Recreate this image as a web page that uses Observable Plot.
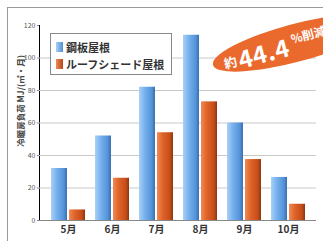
<!DOCTYPE html>
<html><head><meta charset="utf-8">
<script src="https://cdn.jsdelivr.net/npm/d3@7"></script>
<script src="https://cdn.jsdelivr.net/npm/@observablehq/plot@0.6"></script>
<style>
body{margin:0;background:#fff;font-family:"Noto Sans CJK JP",sans-serif;}
#wrap{position:relative;width:323px;height:241px;overflow:hidden;}
#frame{position:absolute;left:7px;top:7px;width:340px;height:260px;border:1.5px solid #9a9a9a;box-sizing:border-box;}
#chart{position:absolute;left:0;top:0;}
#legend{position:absolute;left:50px;top:33px;width:122px;height:42px;border:1px solid #888;background:#fff;box-sizing:border-box;padding:4px 0 0 5px;}
.li{display:flex;align-items:center;height:17px;font-size:11px;color:#333;font-weight:bold;white-space:nowrap;}
.sw{width:7px;height:10px;margin-right:3px;}
#ylab{position:absolute;left:20px;top:101px;transform:translate(-50%,-50%) rotate(-90deg);font-size:8.5px;color:#444;white-space:nowrap;font-weight:bold;}
#badge{position:absolute;left:213px;top:46px;width:170px;height:38px;border-radius:50%;background:#ea6a2e;transform:rotate(-15deg);transform-origin:0 50%;color:#fff;font-weight:bold;white-space:nowrap;}
#badge span{position:absolute;line-height:1;}
</style></head>
<body>
<div id="wrap">
<div id="frame"></div>
<div id="chart"></div>
<div id="legend"></div>
<div id="ylab"></div>
<div id="badge"></div>
</div>
<script>
const months = ["5月","6月","7月","8月","9月","10月"];
const seriesNames = ["鋼板屋根","ルーフシェード屋根"];
const steelValues = [32, 52, 82, 114, 60, 26.5];
const shadeValues = [6.5, 26, 54, 73, 37.5, 10];
const yTicks = [0,20,40,60,80,100,120];
const gridTicks = [20,40,60,80,100];
const yLabel = "冷暖房負荷 MJ/(㎡・月)";
const badgeParts = ["約","44.4","%削減"];

const data = [];
months.forEach((m,i)=>{
  data.push({month:m, series:seriesNames[0], value:steelValues[i]});
  data.push({month:m, series:seriesNames[1], value:shadeValues[i]});
});

const chart = Plot.plot({
  width: 323, height: 241,
  marginLeft: 39, marginRight: 7, marginTop: 25, marginBottom: 21,
  style: {fontFamily: '"Noto Sans CJK JP", sans-serif', background: "transparent"},
  x: {domain: months, paddingInner: 0.64, paddingOuter: 0.43, label: null, tickSize: 0, tickPadding: 5},
  y: {domain: [0,120], ticks: yTicks, label: null, tickSize: 2, tickPadding: 2, line: true},
  marks: [
    Plot.ruleY(gridTicks, {stroke: "#c8c8c8", strokeWidth: 1}),
    Plot.barY(data.filter(d=>d.series===seriesNames[0]), {x:"month", y:"value", fill:"url(#gBlue)", dx:-9}),
    Plot.barY(data.filter(d=>d.series===seriesNames[1]), {x:"month", y:"value", fill:"url(#gOrange)", dx:9}),
    Plot.ruleY([0], {stroke: "#888", strokeWidth: 1.2}),
  ]
});

const ns = "http://www.w3.org/2000/svg";
const defs = document.createElementNS(ns, "defs");
defs.innerHTML = `
<linearGradient id="gBlue" x1="0" x2="1" y1="0" y2="0">
 <stop offset="0" stop-color="#a9d0f5"/><stop offset="0.35" stop-color="#78b2ee"/>
 <stop offset="0.8" stop-color="#5392d8"/><stop offset="1" stop-color="#3a6fb0"/></linearGradient>
<linearGradient id="gOrange" x1="0" x2="1" y1="0" y2="0">
 <stop offset="0" stop-color="#f08a55"/><stop offset="0.35" stop-color="#e0642a"/>
 <stop offset="0.8" stop-color="#c44d18"/><stop offset="1" stop-color="#8f3510"/></linearGradient>`;
chart.insertBefore(defs, chart.firstChild);

chart.querySelectorAll('[aria-label="x-axis tick label"] text').forEach(t=>{t.style.fontSize="10px";t.style.fontWeight="bold";t.setAttribute("fill","#333");});
chart.querySelectorAll('[aria-label="y-axis tick label"] text').forEach(t=>{t.style.fontSize="7px";t.setAttribute("fill","#555");});
chart.querySelectorAll('[aria-label="y-axis tick"], [aria-label="y-axis line"]').forEach(g=>{g.setAttribute("stroke","#888");});
document.getElementById("chart").appendChild(chart);

const lg = document.getElementById("legend");
seriesNames.forEach((s,i)=>{
  const d = document.createElement("div"); d.className="li";
  d.innerHTML = `<span class="sw" style="background:${i===0?'linear-gradient(90deg,#a9d0f5,#4f8fd6)':'linear-gradient(90deg,#f08a55,#b8461a)'}"></span>${s}`;
  lg.appendChild(d);
});
document.getElementById("ylab").textContent = yLabel;
const b = document.getElementById("badge");
b.innerHTML = `<span style="left:11px;top:14px;font-size:13px">${badgeParts[0]}</span><span style="left:26px;top:8px;font-size:24px;letter-spacing:0.5px">${badgeParts[1]}</span><span style="left:82px;top:8px;font-size:12px">${badgeParts[2]}</span>`;
</script>
</body></html>
